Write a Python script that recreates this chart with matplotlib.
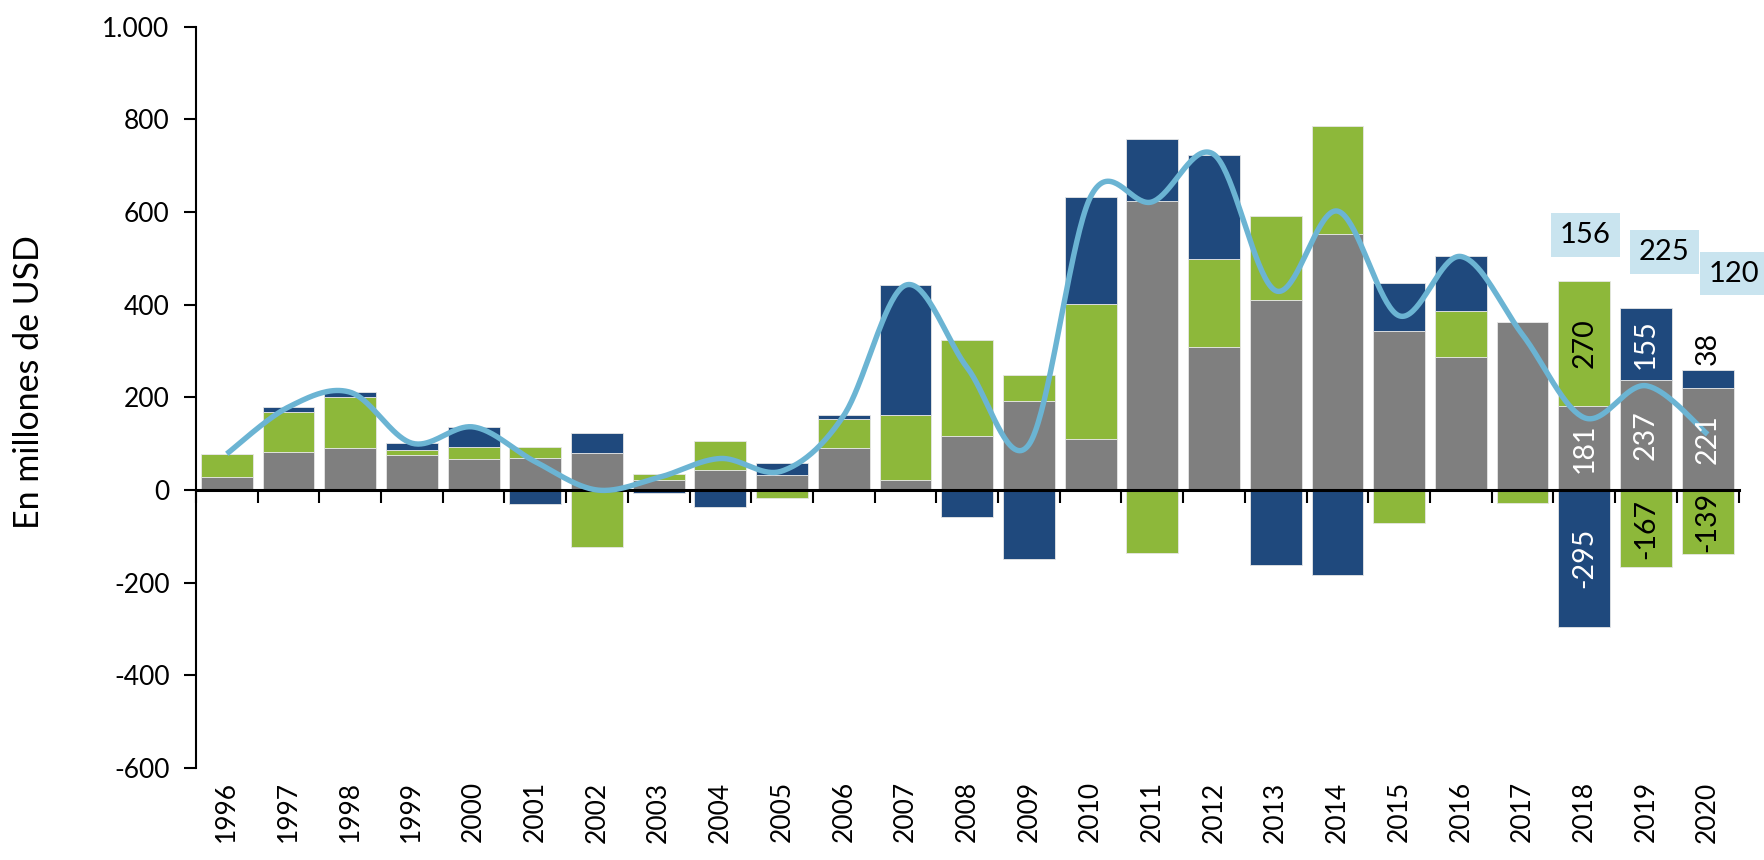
import numpy as np
import matplotlib
matplotlib.use('Agg')
import matplotlib.pyplot as plt
from matplotlib.transforms import blended_transform_factory

plt.rcParams['font.family'] = ['Lato', 'DejaVu Sans']

# ---------------- data ----------------
years = [str(y) for y in range(1996, 2021)]
gray = [27, 81, 91, 75, 66, 68, 79, 21, 44, 32, 91, 21, 116, 191, 109,
        623, 308, 409, 553, 344, 288, 363, 181, 237, 221]
green = [50, 88, 110, 12, 27, 24, -122, 13, 61, -18, 63, 140, 207, 57, 292,
         -135, 191, 182, 233, -71, 98, -28, 270, -167, -139]
blue = [1, 10, 10, 14, 43, -31, 43, -7, -37, 27, 7, 281, -59, -150, 232,
        134, 225, -161, -184, 103, 118, 0, -295, 155, 38]
ytick_values = [-600, -400, -200, 0, 200, 400, 600, 800, 1000]
ytick_labels = ['-600', '-400', '-200', '0', '200', '400', '600', '800', '1.000']
labelled_years = ['2018', '2019', '2020']

# ---------------- style ----------------
C_GRAY = '#7F7F7F'
C_GREEN = '#8DB83A'
C_BLUE = '#1F497D'
C_LINE = '#6BB4D3'
C_BOX = '#C9E4EF'
total_label_y = [550, 514, 467]
total_label_dx = [0.02, 0.3, 0.42]

fig = plt.figure(figsize=(17.65, 8.6), dpi=100)
ax = fig.add_axes([0.111, 0.107, 0.874, 0.862])

x = np.arange(len(years))
series = [(np.array(gray, float), C_GRAY),
          (np.array(green, float), C_GREEN),
          (np.array(blue, float), C_BLUE)]
pos_base = np.zeros(len(years))
neg_base = np.zeros(len(years))
seg_info = []  # (values, bottoms, color)
for vals, col in series:
    bottoms = np.where(vals >= 0, pos_base, neg_base)
    ax.bar(x, vals, width=0.84, bottom=bottoms, color=col,
           edgecolor='#E6E6E6', linewidth=0.6, zorder=2)
    seg_info.append((vals, bottoms, col))
    pos_base = pos_base + np.where(vals > 0, vals, 0)
    neg_base = neg_base + np.where(vals < 0, vals, 0)

total = np.array(gray, float) + np.array(green, float) + np.array(blue, float)


def catmull_rom(xs, ys, n=40):
    xs = np.asarray(xs, float)
    ys = np.asarray(ys, float)
    px = np.concatenate([[xs[0]], xs, [xs[-1]]])
    py = np.concatenate([[ys[0]], ys, [ys[-1]]])
    outx, outy = [], []
    t = np.linspace(0, 1, n, endpoint=False)
    for i in range(1, len(px) - 2):
        p0x, p1x, p2x, p3x = px[i - 1], px[i], px[i + 1], px[i + 2]
        p0y, p1y, p2y, p3y = py[i - 1], py[i], py[i + 1], py[i + 2]
        c1x, c1y = p1x + (p2x - p0x) / 6, p1y + (p2y - p0y) / 6
        c2x, c2y = p2x - (p3x - p1x) / 6, p2y - (p3y - p1y) / 6
        bx = ((1 - t) ** 3) * p1x + 3 * ((1 - t) ** 2) * t * c1x + 3 * (1 - t) * t ** 2 * c2x + t ** 3 * p2x
        by = ((1 - t) ** 3) * p1y + 3 * ((1 - t) ** 2) * t * c1y + 3 * (1 - t) * t ** 2 * c2y + t ** 3 * p2y
        outx.extend(bx)
        outy.extend(by)
    outx.append(xs[-1])
    outy.append(ys[-1])
    return np.array(outx), np.array(outy)


cx, cy = catmull_rom(x, total)
ax.plot(cx, cy, color=C_LINE, lw=3.9, zorder=4, solid_capstyle='butt')

# labels on the last three years
for k, yr in enumerate(labelled_years):
    i = years.index(yr)
    for vals, bottoms, col in seg_info:
        v = vals[i]
        if v == 0:
            continue
        txt = f'{int(v)}'
        tcol = 'black' if col == C_GREEN else 'white'
        if abs(v) < 60:
            ax.text(x[i], bottoms[i] + v + 10, txt, rotation=90, ha='center',
                    va='bottom', fontsize=20.5, color='black', zorder=5)
        else:
            ax.text(x[i], bottoms[i] + v / 2, txt, rotation=90, ha='center',
                    va='center', fontsize=20.5, color=tcol, zorder=5)
    ax.text(x[i] + total_label_dx[k], total_label_y[k], f'{int(total[i])}',
            ha='center', va='center', fontsize=21, color='black', zorder=5,
            clip_on=False,
            bbox=dict(boxstyle='square,pad=0.3', facecolor=C_BOX, edgecolor='none'))

# axes styling
ax.set_xlim(-0.5, len(years) - 0.5)
ax.set_ylim(-600, 1000)
ax.set_yticks(ytick_values)
ax.set_yticklabels(ytick_labels, fontsize=19)
ax.spines['top'].set_visible(False)
ax.spines['right'].set_visible(False)
ax.spines['left'].set_linewidth(1.5)
ax.spines['bottom'].set_position(('data', 0))
ax.spines['bottom'].set_linewidth(2.2)
ax.spines['bottom'].set_zorder(3)
ax.set_xticks(np.arange(len(years) + 1) - 0.5)
ax.set_xticklabels([])
ax.tick_params(axis='x', direction='out', length=9, width=1.5)
ax.tick_params(axis='y', direction='out', length=9, width=1.5, pad=10)

trans = blended_transform_factory(ax.transData, ax.transAxes)
for i, yr in enumerate(years):
    ax.text(x[i], -0.018, yr, transform=trans, rotation=90, ha='center',
            va='top', fontsize=19)

ax.set_ylabel('En millones de USD', fontsize=24.5)
ax.yaxis.set_label_coords(-0.098, 0.52)

fig.savefig('out.png', dpi=100)
